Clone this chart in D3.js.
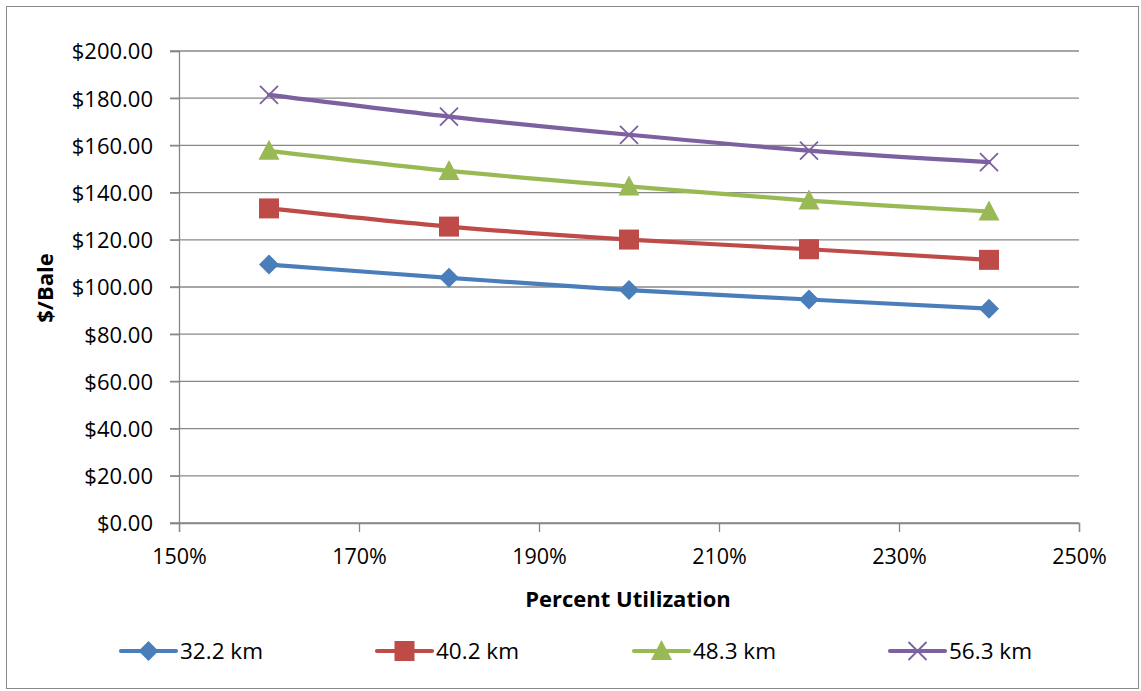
<!DOCTYPE html>
<html><head><meta charset="utf-8">
<script src="https://cdn.jsdelivr.net/npm/d3@7"></script>
<style>body{margin:0;background:#fff}svg{display:block}</style>
</head><body>
<svg id="c" width="1141" height="691"></svg>
<script>
const categories = [1.6, 1.8, 2.0, 2.2, 2.4];
const seriesNames = ["32.2 km", "40.2 km", "48.3 km", "56.3 km"];
const s32 = [109.5, 103.9, 98.7, 94.7, 90.8];
const s40 = [133.3, 125.6, 120.1, 116.0, 111.5];
const s48 = [157.7, 149.2, 142.6, 136.6, 132.0];
const s56 = [181.4, 172.2, 164.5, 157.8, 152.9];
const xTicks = [1.5, 1.7, 1.9, 2.1, 2.3, 2.5];
const yTicks = [0, 20, 40, 60, 80, 100, 120, 140, 160, 180, 200];
const colors = ["#4A7EBB", "#BE4B48", "#98B954", "#7D60A0"];
const markers = ["diamond", "square", "triangle", "x"];
const allSeries = [s32, s40, s48, s56];

const svg = d3.select("#c");
const font = "'Open Sans', 'Liberation Sans', sans-serif";
svg.append("rect").attr("x", 6.5).attr("y", 6.5).attr("width", 1132).attr("height", 682)
  .attr("fill", "#fff").attr("stroke", "#888").attr("stroke-width", 1);

const x = d3.scaleLinear().domain([1.5, 2.5]).range([179, 1079]);
const y = d3.scaleLinear().domain([0, 200]).range([523, 51]);

// gridlines
svg.append("g").selectAll("line").data(yTicks).join("line")
  .attr("x1", 170).attr("x2", 1079)
  .attr("y1", d => y(d)).attr("y2", d => y(d))
  .attr("stroke", "#888").attr("stroke-width", 1.3);

// y axis
const yAxis = svg.append("g").attr("transform", "translate(179,0)")
  .call(d3.axisLeft(y).tickValues(yTicks).tickSize(9).tickPadding(17)
    .tickFormat(d => "$" + d3.format(".2f")(d)));
yAxis.select(".domain").attr("stroke", "#888").attr("stroke-width", 1.3);
yAxis.selectAll(".tick line").attr("stroke", "#888").attr("stroke-width", 1.3);
yAxis.selectAll("text").attr("font-family", font).attr("font-size", 22).attr("fill", "#000")
  .attr("dy", "0.36em");

// x axis
const xAxis = svg.append("g").attr("transform", "translate(0,523)")
  .call(d3.axisBottom(x).tickValues(xTicks).tickSize(9).tickPadding(17)
    .tickFormat(d3.format(".0%")));
xAxis.select(".domain").attr("stroke", "#888").attr("stroke-width", 1.3);
xAxis.selectAll(".tick line").attr("stroke", "#888").attr("stroke-width", 1.3);
xAxis.selectAll("text").attr("font-family", font).attr("font-size", 21.5).attr("fill", "#000");

// axis titles
svg.append("text").attr("transform", "translate(53,288) rotate(-90)")
  .attr("text-anchor", "middle").attr("font-family", font).attr("font-weight", "bold")
  .attr("font-size", 22).text("$/Bale");
svg.append("text").attr("x", 628).attr("y", 607).attr("text-anchor", "middle")
  .attr("font-family", font).attr("font-weight", "bold").attr("font-size", 22)
  .text("Percent Utilization");

function drawMarker(g, type, cx, cy, color) {
  if (type === "diamond") {
    g.append("path").attr("d", `M${cx},${cy-10}L${cx+10},${cy}L${cx},${cy+10}L${cx-10},${cy}Z`).attr("fill", color);
  } else if (type === "square") {
    g.append("rect").attr("x", cx-10).attr("y", cy-10).attr("width", 20).attr("height", 20).attr("fill", color);
  } else if (type === "triangle") {
    g.append("path").attr("d", `M${cx},${cy-11}L${cx+10.5},${cy+9}L${cx-10.5},${cy+9}Z`).attr("fill", color);
  } else {
    g.append("path").attr("d", `M${cx-9},${cy-9}L${cx+9},${cy+9}M${cx-9},${cy+9}L${cx+9},${cy-9}`)
      .attr("stroke", color).attr("stroke-width", 1.8).attr("fill", "none");
  }
}

const line = d3.line().x(d => x(d[0])).y(d => y(d[1])).curve(d3.curveCatmullRom.alpha(0.5));
allSeries.forEach((vals, i) => {
  const pts = categories.map((c, j) => [c, vals[j]]);
  svg.append("path").datum(pts).attr("d", line).attr("fill", "none")
    .attr("stroke", colors[i]).attr("stroke-width", 4.2).attr("stroke-linecap", "round");
  const g = svg.append("g");
  pts.forEach(p => drawMarker(g, markers[i], x(p[0]), y(p[1]), colors[i]));
});

// legend
const legendX = [121, 377, 634, 890];
seriesNames.forEach((name, i) => {
  const lx = legendX[i], ly = 651;
  const g = svg.append("g");
  g.append("line").attr("x1", lx).attr("x2", lx + 55).attr("y1", ly).attr("y2", ly)
    .attr("stroke", colors[i]).attr("stroke-width", 4.2).attr("stroke-linecap", "round");
  drawMarker(g, markers[i], lx + 27.5, ly, colors[i]);
  g.append("text").attr("x", lx + 59).attr("y", ly + 8).attr("font-family", font)
    .attr("font-size", 22.5).attr("fill", "#000").text(name);
});
</script>
</body></html>
